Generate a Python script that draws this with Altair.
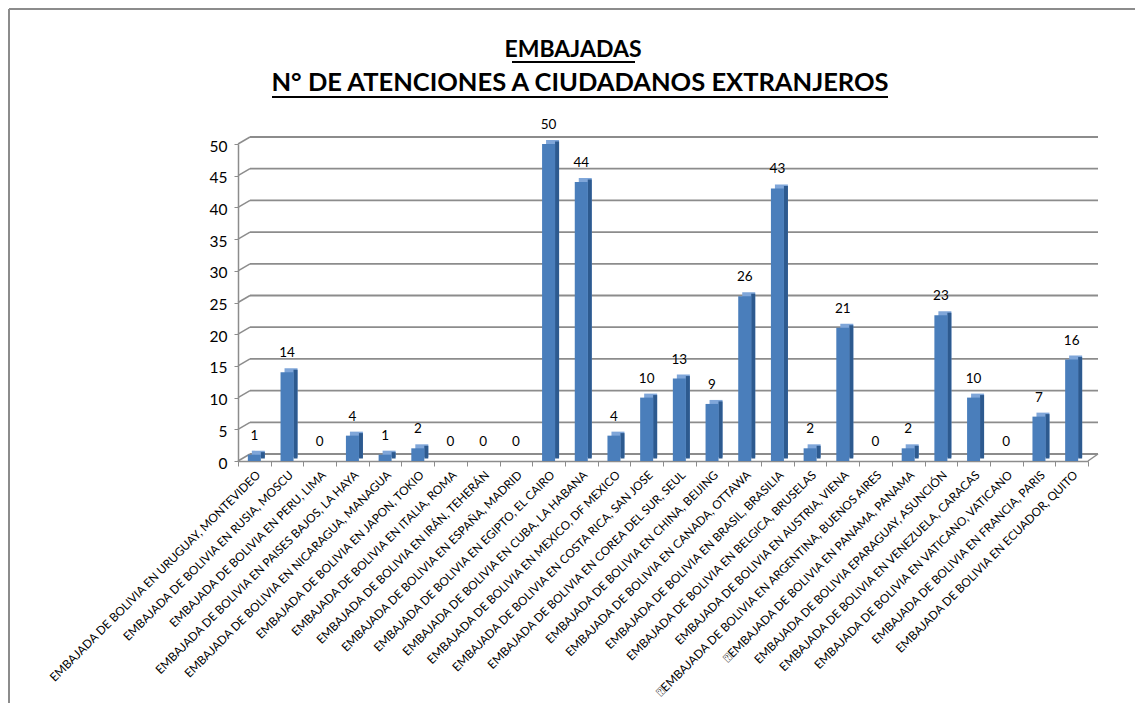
import altair as alt
import pandas as pd

categories = [
    "EMBAJADA DE BOLIVIA EN URUGUAY, MONTEVIDEO",
    "EMBAJADA DE BOLIVIA EN RUSIA, MOSCU",
    "EMBAJADA DE BOLIVIA EN PERU, LIMA",
    "EMBAJADA DE BOLIVIA EN PAISES BAJOS, LA HAYA",
    "EMBAJADA DE BOLIVIA EN NICARAGUA, MANAGUA",
    "EMBAJADA DE BOLIVIA EN JAPON, TOKIO",
    "EMBAJADA DE BOLIVIA EN ITALIA, ROMA",
    "EMBAJADA DE BOLIVIA EN IRÁN, TEHERÁN",
    "EMBAJADA DE BOLIVIA EN ESPAÑA, MADRID",
    "EMBAJADA DE BOLIVIA EN EGIPTO, EL CAIRO",
    "EMBAJADA DE BOLIVIA EN CUBA, LA HABANA",
    "EMBAJADA DE BOLIVIA EN MEXICO, DF MEXICO",
    "EMBAJADA DE BOLIVIA EN COSTA RICA, SAN JOSE",
    "EMBAJADA DE BOLIVIA EN COREA DEL SUR, SEUL",
    "EMBAJADA DE BOLIVIA EN CHINA, BEIJING",
    "EMBAJADA DE BOLIVIA EN CANADA, OTTAWA",
    "EMBAJADA DE BOLIVIA EN BRASIL, BRASILIA",
    "EMBAJADA DE BOLIVIA EN BELGICA, BRUSELAS",
    "EMBAJADA DE BOLIVIA EN AUSTRIA, VIENA",
    "\u2370EMBAJADA DE BOLIVIA EN ARGENTINA, BUENOS AIRES",
    "\u2370EMBAJADA DE BOLIVIA EN PANAMA, PANAMA",
    "EMBAJADA DE BOLIVIA EPARAGUAY, ASUNCIÓN",
    "EMBAJADA DE BOLIVIA EN VENEZUELA, CARACAS",
    "EMBAJADA DE BOLIVIA EN VATICANO, VATICANO",
    "EMBAJADA DE BOLIVIA EN FRANCIA, PARIS",
    "EMBAJADA DE BOLIVIA EN ECUADOR, QUITO",
]
values = [1, 14, 0, 4, 1, 2, 0, 0, 0, 50, 44, 4, 10, 13, 9, 26, 43, 2, 21, 0, 2, 23, 10, 0, 7, 16]
grid_values = [0, 5, 10, 15, 20, 25, 30, 35, 40, 45, 50]
title_line1 = "EMBAJADAS"
title_line2 = "N° DE ATENCIONES A CIUDADANOS EXTRANJEROS"

FONT = "Lato"
GRID = "#8c8c8c"

df = pd.DataFrame({"cat": categories, "val": values})
gdf = pd.DataFrame({"g": grid_values})
one = pd.DataFrame({"g": [0]})

yscale = alt.Scale(domain=[0, 50], nice=False)
yaxis = alt.Axis(values=grid_values, grid=False, labelFont=FONT,
                 labelFontSize=15.5, labelColor="black", labelPadding=7,
                 labelOffset=2,
                 domainColor=GRID, domainWidth=1.5, tickColor=GRID,
                 tickSize=4)
X = alt.X("cat:N", sort=None, title=None,
          scale=alt.Scale(paddingInner=0, paddingOuter=0),
          axis=alt.Axis(labelAngle=-45, labelFont=FONT, labelFontSize=11.8,
                        labelColor="black", labelLimit=400, labelPadding=3,
                        domainColor=GRID, domainWidth=1.5, tickColor=GRID,
                        tickSize=5, tickBand="extent"))
Y = alt.Y("val:Q", title=None, scale=yscale, axis=yaxis)
YG = alt.Y("g:Q", title=None, scale=yscale, axis=yaxis)

base = alt.Chart(df)
top_face = base.mark_bar(size=13, xOffset=4, yOffset=-4, y2Offset=-1, color="#7fa6d9").encode(x=X, y=Y)
side_face = base.mark_bar(size=4, xOffset=8.5, yOffset=-2.5, y2Offset=-1, color="#2d5a8f").encode(x=X, y=Y)
front_face = base.mark_bar(size=13, color="#4a7ebb").encode(x=X, y=Y)
labels = base.mark_text(dy=-19, font=FONT, fontSize=13.5, color="black").encode(
    x=X, y=Y, text=alt.Text("val:Q"))

grid = alt.Chart(gdf).mark_rule(color=GRID, strokeWidth=1.8, yOffset=-7).encode(
    x=alt.value(12), x2=alt.value(860), y=YG)
conn = alt.Chart(gdf).mark_rule(color=GRID, strokeWidth=1.5, y2Offset=-7).encode(
    x=alt.value(0), x2=alt.value(12), y=YG, y2="g:Q")
floor_edge = alt.Chart(one).mark_rule(color=GRID, strokeWidth=1.5, y2Offset=-7).encode(
    x=alt.value(850), x2=alt.value(860), y=YG, y2="g:Q")

t1 = alt.Chart(pd.DataFrame({"t": [title_line1]})).mark_text(
    font=FONT, fontSize=23, fontWeight="bold", color="black", baseline="alphabetic").encode(
    text="t:N", x=alt.value(335), y=alt.value(-87))
t2 = alt.Chart(pd.DataFrame({"t": [title_line2]})).mark_text(
    font=FONT, fontSize=25.5, fontWeight="bold", color="black", baseline="alphabetic").encode(
    text="t:N", x=alt.value(342), y=alt.value(-53))
u1 = alt.Chart(one).mark_rule(color="black", strokeWidth=2).encode(
    x=alt.value(274), x2=alt.value(397), y=alt.value(-82))
u2 = alt.Chart(one).mark_rule(color="black", strokeWidth=2).encode(
    x=alt.value(34), x2=alt.value(650), y=alt.value(-47))

frame_left = alt.Chart(one).mark_rule(color="#8c8c8c", strokeWidth=2).encode(
    x=alt.value(-229), y=alt.value(-135), y2=alt.value(700))
frame_top = alt.Chart(one).mark_rule(color="#8c8c8c", strokeWidth=2).encode(
    x=alt.value(-229), x2=alt.value(1000), y=alt.value(-135))

chart = alt.layer(
    grid, conn, floor_edge, top_face, side_face, front_face, labels,
    t1, t2, u1, u2, frame_left, frame_top
).properties(
    width=850, height=317,
    autosize=alt.AutoSizeParams(type="none"),
    padding={"left": 230, "top": 136, "right": 47, "bottom": 242},
    background="white",
).configure_view(stroke=None)

chart.save("out.html", embed_options={"renderer": "svg", "actions": False})
